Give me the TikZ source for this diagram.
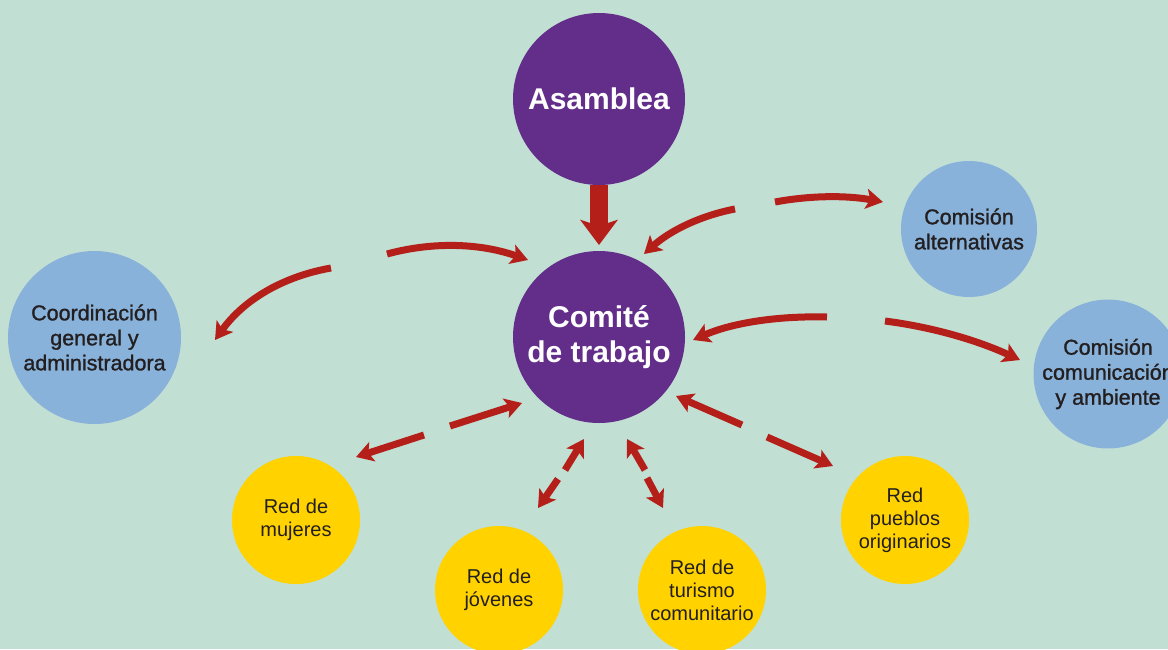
\documentclass[tikz,border=0pt]{standalone}
\usepackage{fontspec}
\setmainfont{Liberation Sans}
\newfontfamily\medfont[FakeBold=1.2]{Liberation Sans}
\usetikzlibrary{arrows.meta}
\definecolor{bg}{HTML}{C2DFD4}
\definecolor{purp}{HTML}{632D8A}
\definecolor{blu}{HTML}{88B2DA}
\definecolor{yel}{HTML}{FFD200}
\definecolor{arrred}{HTML}{B51F1A}
\definecolor{ink}{HTML}{231F20}
\begin{document}
\begin{tikzpicture}[x=1pt,y=-1pt,
  purplecirc/.style={circle,fill=purp,inner sep=0pt,outer sep=0pt,minimum size=172pt,text=white,font=\bfseries\fontsize{30}{35}\selectfont,align=center},
  bluecirc/.style={circle,fill=blu,inner sep=0pt,outer sep=0pt,text=ink,font=\medfont\fontsize{21.5}{25}\selectfont,align=center},
  yellowcirc/.style={circle,fill=yel,inner sep=0pt,outer sep=0pt,minimum size=128pt,text=ink,font=\fontsize{20}{23}\selectfont,align=center},
  link/.style={color=arrred,line width=7pt,-{Stealth[length=17pt,width=20pt,inset=4pt]}},
  bigarrow/.style={color=arrred,line width=18pt,-{Stealth[length=25pt,width=37pt,inset=6pt]}}
]
\useasboundingbox (0,0) rectangle (1168,649);
\fill[bg] (0,0) rectangle (1168,649);

% nodes
\node[purplecirc] (asamblea) at (599,99) {Asamblea};
\node[purplecirc] (comite) at (599,337) {Comité\\de trabajo};
\node[bluecirc,minimum size=173pt] (coord) at (94.5,337.5) {Coordinación\\general y\\administradora};
\node[bluecirc,minimum size=136pt] (alt) at (969,229) {Comisión\\alternativas};
\node[bluecirc,minimum size=136pt] (comu) at (1108,374) {Comisión\\comunicación\\y ambiente};
\node[yellowcirc] (mujeres) at (296,520) {Red de\\mujeres};
\node[yellowcirc] (jovenes) at (499,590) {Red de\\jóvenes};
\node[yellowcirc] (turismo) at (702,590) {Red de\\turismo\\comunitario};
\node[yellowcirc] (pueblos) at (905,520) {Red\\pueblos\\originarios};

% big arrow
\draw[bigarrow,shorten >=6pt] (asamblea.south) -- (comite.north);

% arrow ends
\coordinate (a1s) at (387,254); \coordinate (a1e) at (528,260);
\coordinate (a2s) at (331,268); \coordinate (a2e) at (215,340);
\coordinate (a3s) at (735,209); \coordinate (a3e) at (644,254);
\coordinate (a4s) at (775,202); \coordinate (a4e) at (883,202);
\coordinate (a5s) at (827,317); \coordinate (a5e) at (693,340);
\coordinate (a6s) at (885,321); \coordinate (a6e) at (1020,360);
\coordinate (b1s) at (450,426); \coordinate (b1e) at (522,403);
\coordinate (b2s) at (424,435); \coordinate (b2e) at (356,457);
\coordinate (c1s) at (565,470); \coordinate (c1e) at (584,439);
\coordinate (c2s) at (558,479); \coordinate (c2e) at (538,508);
\coordinate (d1s) at (645,470); \coordinate (d1e) at (627,439);
\coordinate (d2s) at (647,478); \coordinate (d2e) at (663,508);
\coordinate (e1s) at (742,425); \coordinate (e1e) at (676,396);
\coordinate (e2s) at (767,437); \coordinate (e2e) at (833,466);

% curved arrows
\draw[link] (a1s) .. controls (433.7,241.3) and (480.7,243.3) .. (a1e);
\draw[link] (a2s) .. controls (281.7,276.7) and (243,300.7) .. (a2e);
\draw[link] (a3s) .. controls (700.3,215.7) and (670,230.7) .. (a3e);
\draw[link] (a4s) .. controls (811,195.3) and (847,195.3) .. (a4e);
\draw[link] (a5s) .. controls (775.7,315.7) and (731,323.3) .. (a5e);
\draw[link] (a6s) .. controls (931.7,327) and (976.7,340) .. (a6e);

% straight arrows
\draw[link] (b1s) -- (b1e);
\draw[link] (b2s) -- (b2e);
\draw[link] (c1s) -- (c1e);
\draw[link] (c2s) -- (c2e);
\draw[link] (d1s) -- (d1e);
\draw[link] (d2s) -- (d2e);
\draw[link] (e1s) -- (e1e);
\draw[link] (e2s) -- (e2e);
\end{tikzpicture}
\end{document}
